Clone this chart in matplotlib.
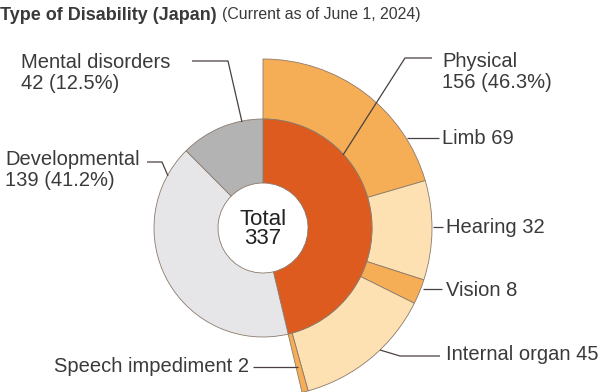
import matplotlib
matplotlib.use("Agg")
import matplotlib.pyplot as plt

# Inner ring: main disability types (clockwise from 12 o'clock)
main_labels = ["Physical", "Developmental", "Mental disorders"]
main_values = [156, 139, 42]
main_pcts = [46.3, 41.2, 12.5]
main_colors = ["#dd5b1f", "#e6e6e8", "#b3b3b4"]

# Outer ring: breakdown of physical disabilities
sub_labels = ["Limb", "Hearing", "Vision", "Internal organ", "Speech impediment"]
sub_values = [69, 32, 8, 45, 2]
sub_colors = ["#f5ae55", "#fde1b3", "#f5ae55", "#fde1b3", "#f5ae55"]

total = sum(main_values)

W, H = 600, 392
fig = plt.figure(figsize=(W / 100, H / 100), dpi=100)
ax = fig.add_axes([0, 0, 1, 1])

FONT = "Liberation Sans"
TXT = "#3a3a3a"
LINE = "#4a4040"
FS = 14.5


def Y(y):
    # reference pixel row -> axes y
    return H - y


cx, cy = 263, Y(228)
r_in, r_hole, r_out = 109, 45, 169
edge = dict(edgecolor="#8c7a6c", linewidth=0.6)

# outer ring (physical breakdown) + invisible remainder
rest = total - sum(sub_values)
wedges, _ = ax.pie(
    sub_values + [rest], colors=sub_colors + ["none"], startangle=90,
    counterclock=False, radius=r_out, center=(cx, cy),
    wedgeprops=dict(width=r_out - r_in, **edge), frame=True,
)
wedges[-1].set_edgecolor("none")

ax.pie(
    main_values, colors=main_colors, startangle=90, counterclock=False,
    radius=r_in, center=(cx, cy),
    wedgeprops=dict(width=r_in - r_hole, **edge), frame=True,
)
ax.set_xlim(0, W)
ax.set_ylim(0, H)
ax.set_aspect("equal")
ax.axis("off")

ax.text(cx, cy - 1, f"Total\n{total}", ha="center", va="center", fontsize=16,
        family=FONT, color="#222222", linespacing=0.85)

# title
fig.text(0.0, 1 - 15 / H, "Type of Disability (Japan)", fontsize=13,
         fontweight="bold", family=FONT, color="#3a3a3a", va="center")
fig.text(222 / W, 1 - 15 / H, "(Current as of June 1, 2024)", fontsize=11.4,
         family=FONT, color="#3a3a3a", va="center")


def leader(pts):
    xs = [p[0] for p in pts]
    ys = [Y(p[1]) for p in pts]
    ax.plot(xs, ys, color=LINE, lw=0.9, solid_capstyle="butt")


def label(x, y, s, ha="left"):
    ax.text(x, Y(y), s, ha=ha, va="center", fontsize=FS, family=FONT,
            color=TXT, linespacing=1.15)


# main labels
label(442, 72, f"{main_labels[0]}\n{main_values[0]} ({main_pcts[0]}%)")
leader([(432, 58), (405, 58), (343, 155)])

label(21, 73, f"{main_labels[2]}\n{main_values[2]} ({main_pcts[2]}%)")
leader([(192, 61), (228, 61), (242, 122)])

label(5, 170, f"{main_labels[1]}\n{main_values[1]} ({main_pcts[1]}%)")
leader([(147, 162), (162, 162), (168, 176)])

# sub labels
label(442, 138, f"{sub_labels[0]} {sub_values[0]}")
leader([(407, 138), (439, 138)])

label(446, 227, f"{sub_labels[1]} {sub_values[1]}")
leader([(433, 227), (443, 227)])

label(446, 290, f"{sub_labels[2]} {sub_values[2]}")
leader([(423, 289), (442, 289)])

label(446, 355, f"{sub_labels[3]} {sub_values[3]}")
leader([(380, 350), (400, 356), (440, 356)])

label(249, 367, f"{sub_labels[4]} {sub_values[4]}", ha="right")
leader([(253, 367), (298, 367)])

fig.savefig("out.png", dpi=100)
